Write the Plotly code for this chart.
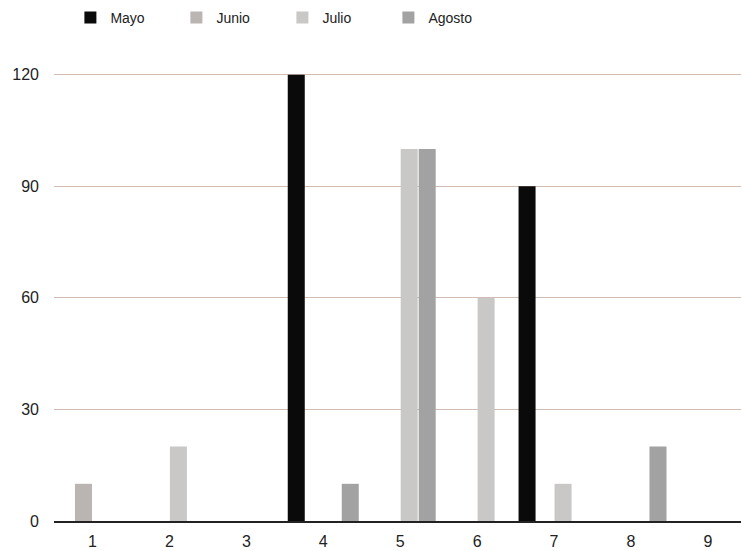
import plotly.graph_objects as go

categories = ["1", "2", "3", "4", "5", "6", "7", "8", "9"]
mayo = [0, 0, 0, 120, 0, 0, 90, 0, 0]
junio = [10, 0, 0, 0, 0, 0, 0, 0, 0]
julio = [0, 20, 0, 0, 100, 60, 10, 0, 0]
agosto = [0, 0, 0, 10, 100, 0, 0, 20, 0]
y_ticks = [0, 30, 60, 90, 120]

series = [
    ("Mayo", mayo, "#0a0a0a"),
    ("Junio", junio, "#bab4b2"),
    ("Julio", julio, "#c9c8c7"),
    ("Agosto", agosto, "#a2a2a2"),
]

fig = go.Figure()
for name, vals, col in series:
    fig.add_trace(go.Bar(name=name, x=categories, y=vals, marker=dict(color=col, line=dict(width=0))))

fig.update_layout(
    width=741, height=551,
    margin=dict(l=54, r=0, t=71, b=30, autoexpand=False),
    paper_bgcolor="white", plot_bgcolor="white",
    barmode="group", bargap=0.064, bargroupgap=0.055,
    font=dict(family="Liberation Sans, Arial, sans-serif", size=14, color="#222"),
    legend=dict(orientation="h", xref="container", yref="container",
                x=0.095, xanchor="left", y=1 - 18 / 551, yanchor="middle",
                entrywidth=61, entrywidthmode="pixels", font=dict(size=14)),
    xaxis=dict(type="category", range=[-0.5, 8.43], showgrid=False, showline=True,
               linecolor="#222", linewidth=2, ticks="", ticklabelstandoff=5,
               tickfont=dict(size=16)),
    yaxis=dict(range=[0, 121], tickvals=y_ticks, showgrid=True, gridcolor="#d2bdb5",
               gridwidth=1, zeroline=False, ticks="", ticklabelstandoff=14,
               tickfont=dict(size=16)),
)

fig.write_html("out.html")
